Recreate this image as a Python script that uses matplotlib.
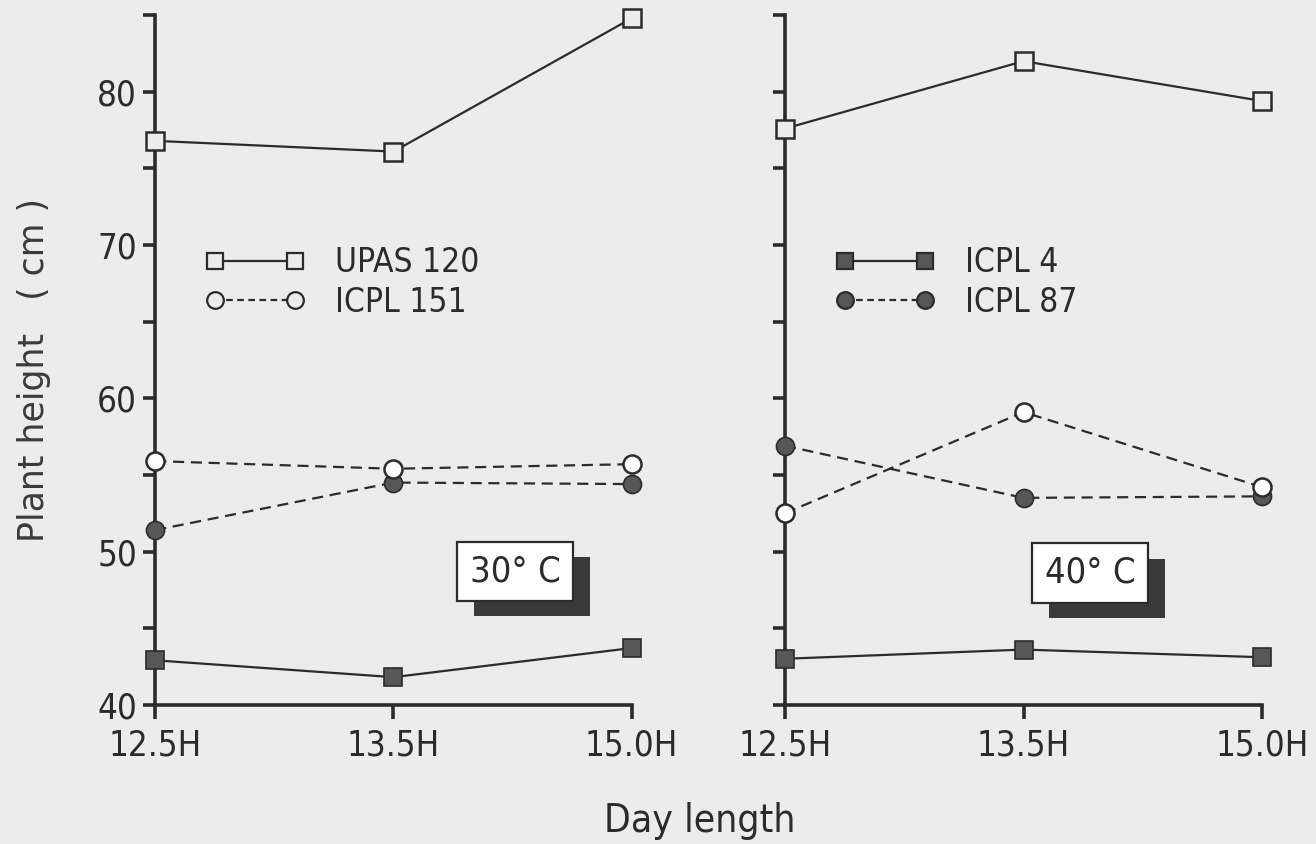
import matplotlib
matplotlib.use("Agg")
import matplotlib.pyplot as plt
import matplotlib.patheffects as pe
from matplotlib.lines import Line2D
from matplotlib.font_manager import FontProperties

# day length categories
day_lengths = ["12.5H", "13.5H", "15.0H"]

# plant height (cm) at 30 C
upas120_30 = [76.8, 76.1, 84.8]
icpl151_30 = [55.9, 55.4, 55.7]
icpl87_30 = [51.4, 54.5, 54.4]
icpl4_30 = [42.9, 41.8, 43.7]

# plant height (cm) at 40 C
upas120_40 = [77.6, 82.0, 79.4]
icpl151_40 = [52.5, 59.1, 54.2]
icpl87_40 = [56.9, 53.5, 53.6]
icpl4_40 = [43.0, 43.6, 43.1]

y_major = [40, 50, 60, 70, 80]
y_minor = [45, 55, 65, 75, 85]

ink = "#2b2b2b"
fill = "#575757"
bg = "#ececec"

def cond(size):
    return FontProperties(family="DejaVu Sans", stretch="condensed", size=size)

fig = plt.figure(figsize=(13.16, 8.44), dpi=100, facecolor=bg)

def style_axes(ax, show_labels):
    ax.set_facecolor(bg)
    ax.set_xlim(0, 2)
    ax.set_ylim(40, 85)
    for s in ["top", "right"]:
        ax.spines[s].set_visible(False)
    for s in ["left", "bottom"]:
        ax.spines[s].set_linewidth(2.6)
        ax.spines[s].set_color(ink)
    ax.set_xticks(range(len(day_lengths)))
    ax.set_xticklabels(day_lengths, fontproperties=cond(25), color=ink)
    ax.set_yticks(y_major)
    ax.set_yticks(y_minor, minor=True)
    if show_labels:
        ax.set_yticklabels([str(v) for v in y_major], fontproperties=cond(25), color=ink)
    else:
        ax.set_yticklabels([])
    ax.tick_params(axis="x", direction="out", length=10, width=2.6, color=ink, pad=7)
    ax.tick_params(axis="y", which="both", direction="out", length=9, width=2.6, color=ink, pad=4)

def draw_series(ax, sq_open, circ_open, circ_fill, sq_fill):
    x = range(len(day_lengths))
    kw = dict(color=ink, lw=1.6, clip_on=False, zorder=5)
    ax.plot(x, sq_open, marker="s", ms=13, mfc=bg, mec=ink, mew=1.8, ls="-", **kw)
    ax.plot(x, circ_fill, marker="o", ms=13, mfc=fill, mec=ink, mew=1.2, ls=(0, (5, 3)), **kw)
    ax.plot(x, circ_open, marker="o", ms=13, mfc="white", mec=ink, mew=1.8, ls=(0, (5, 3)), **kw)
    ax.plot(x, sq_fill, marker="s", ms=13, mfc=fill, mec=ink, mew=1.2, ls="-", **kw)

def temp_box(ax, x, y, label):
    t = ax.text(x, y, label, fontproperties=cond(26), color=ink, ha="center", va="center",
                bbox=dict(boxstyle="square,pad=0.35", fc="white", ec=ink, lw=1.6), zorder=6)
    t.get_bbox_patch().set_path_effects([
        pe.SimplePatchShadow(offset=(12, -11), shadow_rgbFace="#3a3a3a", alpha=1.0),
        pe.Normal()])

def legend(ax, entries):
    handles = []
    labels = []
    for marker, face, ls, name in entries:
        handles.append(Line2D([], [], color=ink, lw=1.6, ls=ls, marker=marker, ms=12,
                              mfc=face, mec=ink, mew=1.6))
        labels.append(name)
    leg = ax.legend(handles, labels, loc="upper left", bbox_to_anchor=(0.105, 0.665),
                    numpoints=2, handlelength=3.0, handletextpad=0.9, labelspacing=0.2,
                    frameon=False, borderaxespad=0, borderpad=0, prop=cond(24))
    for txt in leg.get_texts():
        txt.set_color(ink)

# 30 C panel
ax1 = fig.add_axes([0.118, 0.165, 0.362, 0.817])
style_axes(ax1, True)
draw_series(ax1, upas120_30, icpl151_30, icpl87_30, icpl4_30)
legend(ax1, [("s", bg, "-", "UPAS 120"), ("o", bg, (0, (3, 2)), "ICPL 151")])
temp_box(ax1, 1.51, 48.7, "30° C")

# 40 C panel
ax2 = fig.add_axes([0.5965, 0.165, 0.3625, 0.817])
style_axes(ax2, False)
draw_series(ax2, upas120_40, icpl151_40, icpl87_40, icpl4_40)
legend(ax2, [("s", fill, "-", "ICPL 4"), ("o", fill, (0, (3, 2)), "ICPL 87")])
temp_box(ax2, 1.28, 48.6, "40° C")

fig.text(0.532, 0.014, "Day length", fontproperties=cond(28), color=ink,
         ha="center", va="baseline")
fig.text(0.026, 0.562, "Plant height   ( cm )", fontsize=25, color="#3a3a3a", rotation=90,
         ha="center", va="center")

fig.savefig("out.png", dpi=100, facecolor=bg)
